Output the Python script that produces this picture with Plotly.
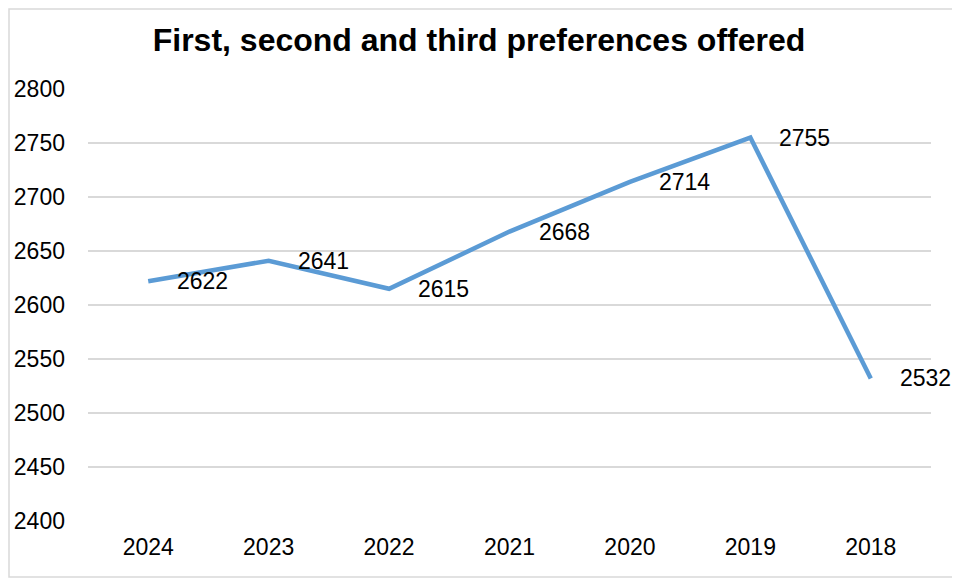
import plotly.graph_objects as go

years = ["2024", "2023", "2022", "2021", "2020", "2019", "2018"]
offered = [2622, 2641, 2615, 2668, 2714, 2755, 2532]
y_ticks = [2400, 2450, 2500, 2550, 2600, 2650, 2700, 2750, 2800]

font_family = "Liberation Sans, Arial, sans-serif"
line_color = "#5B9BD5"

# page body adds an 8px margin, so the figure is a bit smaller than the window
W, H = 952, 572
ml, mr, mt, mb = 80, 29, 81, 59
pw, ph = W - ml - mr, H - mt - mb

fig = go.Figure(go.Scatter(
    x=years,
    y=offered,
    mode="lines",
    line=dict(color=line_color, width=4.5),
    hoverinfo="x+y",
))

# data labels to the right of each point
for i, v in enumerate(offered):
    fig.add_annotation(
        x=i, y=v, text=str(v), showarrow=False,
        xanchor="left", yanchor="middle", xshift=27,
        font=dict(family=font_family, size=23, color="#000000"),
    )

# thin frame round the whole chart
fig.add_shape(
    type="rect", xref="paper", yref="paper",
    x0=(1 - ml) / pw, x1=(W - 2 - ml) / pw,
    y0=-(mb - 3) / ph, y1=(ph + mt - 1) / ph,
    line=dict(color="#d9d9d9", width=1.5), layer="below",
)

fig.update_layout(
    title=dict(
        text="<b>First, second and third preferences offered</b>",
        font=dict(family=font_family, size=32, color="#000000"),
        x=471 / W, xanchor="center", xref="container",
        y=1 - 32 / H, yanchor="middle", yref="container",
    ),
    width=W,
    height=H,
    margin=dict(l=ml, r=mr, t=mt, b=mb),
    paper_bgcolor="white",
    plot_bgcolor="white",
    showlegend=False,
    font=dict(family=font_family, size=23, color="#000000"),
    xaxis=dict(
        type="category",
        showgrid=False,
        showline=False,
        zeroline=False,
        ticks="",
        ticklabelstandoff=10,
        tickfont=dict(size=23),
        range=[-0.5, len(years) - 0.5],
        automargin=False,
    ),
    yaxis=dict(
        range=[2400, 2800],
        tickvals=y_ticks,
        showgrid=True,
        gridcolor="#d9d9d9",
        gridwidth=1.5,
        zeroline=False,
        showline=False,
        ticks="",
        ticklabelstandoff=22,
        tickfont=dict(size=23),
        automargin=False,
    ),
)

fig.write_html("out.html")
